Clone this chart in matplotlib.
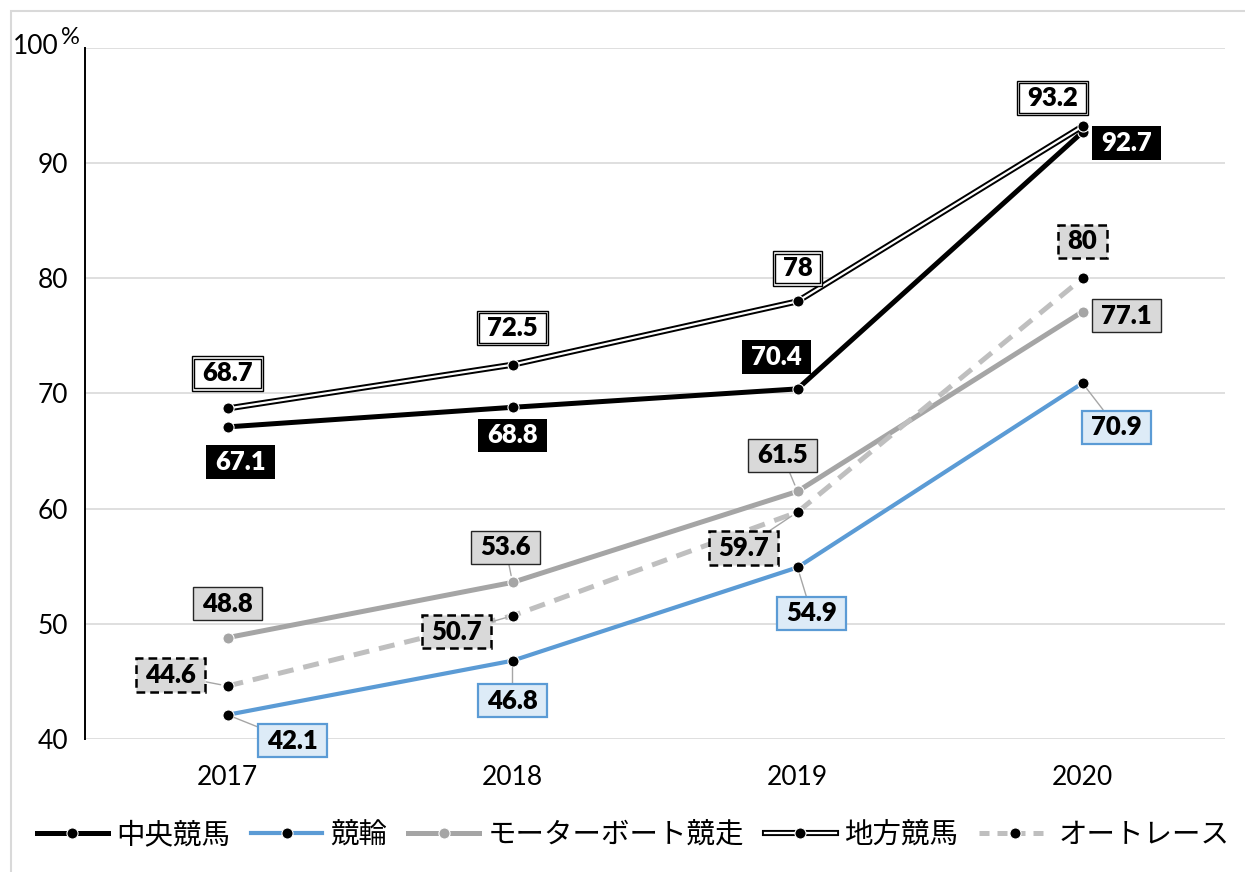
import matplotlib
matplotlib.use("Agg")
import matplotlib.pyplot as plt
from matplotlib.path import Path
from matplotlib.lines import Line2D
from matplotlib.legend_handler import HandlerTuple
from matplotlib.patches import Rectangle

# ---- data -------------------------------------------------------------
years = ["2017", "2018", "2019", "2020"]
chuo_keiba = [67.1, 68.8, 70.4, 92.7]      # 中央競馬
keirin = [42.1, 46.8, 54.9, 70.9]          # 競輪
boat = [48.8, 53.6, 61.5, 77.1]            # モーターボート競走
chiho_keiba = [68.7, 72.5, 78.0, 93.2]     # 地方競馬
auto_race = [44.6, 50.7, 59.7, 80.0]       # オートレース
names = ["中央競馬", "競輪", "モーターボート競走", "地方競馬", "オートレース"]
y_ticks = [40, 50, 60, 70, 80, 90, 100]

# ---- label placement (pixel offsets from each point, leader line flag) --
chuo_lab = [(13, -35, False), (0, -28, False), (-21, 32, False), (44, -11, False)]
keirin_lab = [(65, -26, True), (0, -40, True), (14, -46, True), (34, -44, True)]
boat_lab = [(0, 34, False), (-7, 35, True), (-15, 36, True), (44, -4, False)]
chiho_lab = [(0, 35, False), (0, 37, False), (0, 33, False), (-30, 28, False)]
auto_lab = [(-57, 11, True), (-56, -16, True), (-54, -36, True), (0, 37, False)]

BLUE = "#5b9bd5"
GRAY = "#a5a5a5"
LGRAY = "#bfbfbf"
NUM_FONT = ["Lato", "DejaVu Sans"]
JP_FONT = ["Noto Sans CJK JP", "DejaVu Sans"]

W, H = 1245, 872
fig = plt.figure(figsize=(W / 100, H / 100), dpi=100)
ax = fig.add_axes([85 / W, (H - 739) / H, 1140 / W, 691 / H])

x = list(range(len(years)))


def rect_box(padx, pady):
    """Rectangular box with separate horizontal / vertical padding."""
    def style(x0, y0, width, height, mutation_size):
        px = padx * mutation_size
        py = pady * mutation_size
        verts = [(x0 - px, y0 - py), (x0 + width + px, y0 - py),
                 (x0 + width + px, y0 + height + py), (x0 - px, y0 + height + py),
                 (x0 - px, y0 - py)]
        return Path(verts, closed=True)
    return style


# ---- series lines -----------------------------------------------------
mk = dict(marker="o", markersize=8, markerfacecolor="black",
          markeredgecolor="white", markeredgewidth=0.8)

ax.plot(x, chuo_keiba, color="black", lw=3.6, solid_capstyle="round", zorder=3, **mk)
ax.plot(x, keirin, color=BLUE, lw=3.0, solid_capstyle="round", zorder=3.1, **mk)
ax.plot(x, boat, color=GRAY, lw=3.6, solid_capstyle="round", zorder=3.2,
        marker="o", markersize=8, markerfacecolor=GRAY, markeredgecolor="white",
        markeredgewidth=0.8)
ax.plot(x, chiho_keiba, color="black", lw=4.4, zorder=3.3)
ax.plot(x, chiho_keiba, color="white", lw=1.6, zorder=3.31)
ax.plot(x, chiho_keiba, linestyle="none", zorder=3.32, **mk)
ax.plot(x, auto_race, color=LGRAY, lw=3.6, dashes=(3.2, 2.0), zorder=3.4, **mk)

# ---- data labels ------------------------------------------------------
FS = 18.5


def add_labels(values, layout, text_color, box_kw, extra_box=None):
    for xi, v, (dx, dy, lead) in zip(x, values, layout):
        arrow = None
        if lead:
            arrow = dict(arrowstyle="-", color="#a6a6a6", lw=1.0,
                         shrinkA=0, shrinkB=5)
        if extra_box is not None:
            ax.annotate(f"{v:g}", (xi, v), xytext=(dx, dy), textcoords="offset pixels",
                        ha="center", va="center", fontsize=FS, fontweight="heavy",
                        family=NUM_FONT, color="none", bbox=extra_box, zorder=9.9)
        ax.annotate(f"{v:g}", (xi, v), xytext=(dx, dy), textcoords="offset pixels",
                    ha="center", va="center", fontsize=FS, fontweight="heavy",
                    family=NUM_FONT, color=text_color, bbox=box_kw,
                    arrowprops=arrow, zorder=10)


add_labels(chuo_keiba, chuo_lab, "white",
           dict(boxstyle=rect_box(0.36, 0.18), fc="black", ec="black", lw=0))
add_labels(keirin, keirin_lab, "black",
           dict(boxstyle=rect_box(0.36, 0.18), fc="#ddebf7", ec=BLUE, lw=1.6))
add_labels(boat, boat_lab, "black",
           dict(boxstyle=rect_box(0.36, 0.18), fc="#d9d9d9", ec="#262626", lw=1.0))
add_labels(chiho_keiba, chiho_lab, "black",
           dict(boxstyle=rect_box(0.30, 0.11), fc="white", ec="black", lw=1.0),
           extra_box=dict(boxstyle=rect_box(0.39, 0.20), fc="white", ec="black", lw=1.0))
add_labels(auto_race, auto_lab, "black",
           dict(boxstyle=rect_box(0.36, 0.18), fc="#d9d9d9", ec="black", lw=1.8,
                linestyle=(0, (3.5, 2.0))))

# ---- axes -------------------------------------------------------------
ax.set_xlim(-0.5, len(years) - 0.5)
ax.set_ylim(40, 100)
ax.set_yticks(y_ticks)
ax.set_yticklabels([str(t) for t in y_ticks[:-1]] + [""], family=NUM_FONT, fontsize=19)
ax.set_xticks(x)
ax.set_xticklabels(years, family=NUM_FONT, fontsize=19)
ax.tick_params(axis="y", length=0, pad=12)
ax.tick_params(axis="x", length=0, pad=19)
ax.grid(axis="y", color="#d9d9d9", lw=1.2)
ax.set_axisbelow(True)
for side in ("top", "right", "bottom"):
    ax.spines[side].set_visible(False)
ax.spines["left"].set_color("black")
ax.spines["left"].set_linewidth(1.4)

fig.text(36 / W, (H - 47) / H, "100", ha="center", va="center",
         fontsize=19, family=NUM_FONT)
fig.text(70 / W, (H - 37) / H, "%", ha="center", va="center",
         fontsize=17, family=NUM_FONT)

# ---- legend -----------------------------------------------------------
h_chuo = Line2D([], [], color="black", lw=3.6, **mk)
h_keirin = Line2D([], [], color=BLUE, lw=3.0, **mk)
h_boat = Line2D([], [], color=GRAY, lw=3.6, marker="o", markersize=8,
                markerfacecolor=GRAY, markeredgecolor="white", markeredgewidth=0.8)
h_chiho = (Line2D([], [], color="black", lw=4.4),
           Line2D([], [], color="white", lw=1.6),
           Line2D([], [], linestyle="none", **mk))
h_auto = Line2D([], [], color=LGRAY, lw=3.6, dashes=(2.0, 1.6), **mk)

fig.legend([h_chuo, h_keirin, h_boat, h_chiho, h_auto], names,
           loc="center", bbox_to_anchor=(633 / W, (H - 835) / H), ncol=5,
           frameon=False, prop=dict(family=JP_FONT, size=20.5),
           handlelength=2.5, handletextpad=0.28, columnspacing=0.74,
           handler_map={tuple: HandlerTuple(ndivide=1)})

# ---- outer frame ------------------------------------------------------
fig.patches.append(Rectangle((11 / W, -0.05), 1.2, (H - 11) / H + 0.05,
                             transform=fig.transFigure, fill=False,
                             ec="#d9d9d9", lw=1.5, zorder=0))

fig.savefig("out.png", dpi=100, facecolor="white")
